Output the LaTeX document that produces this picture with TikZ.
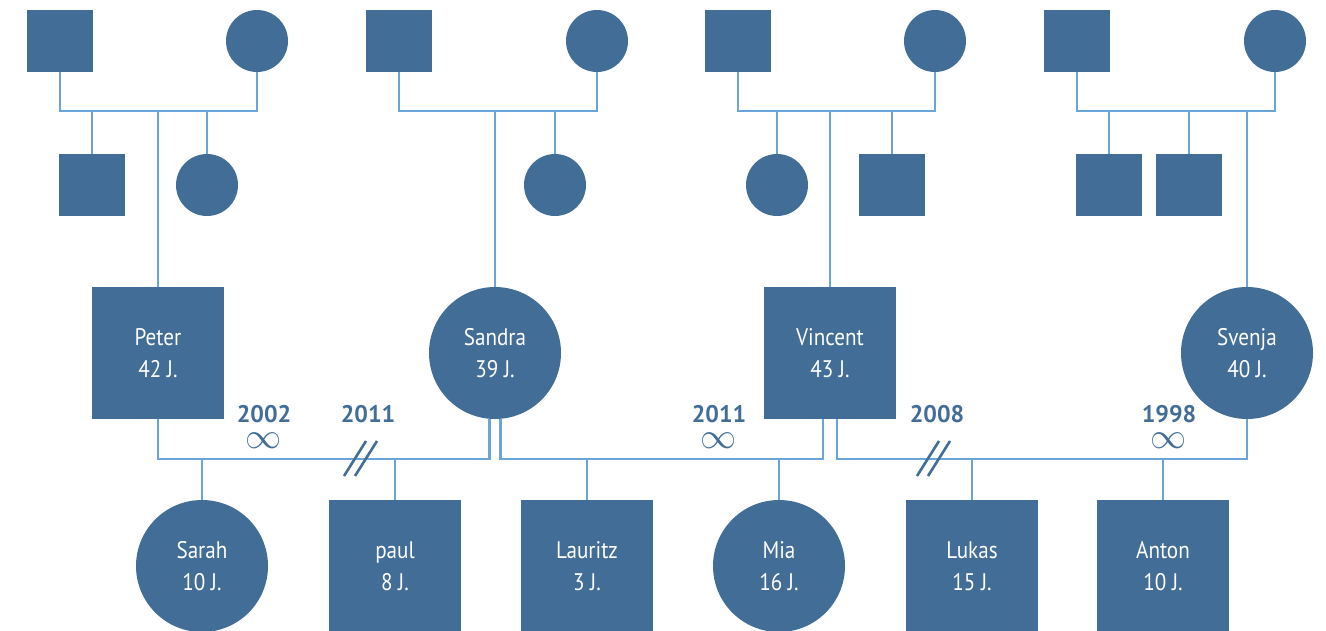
\documentclass[tikz,border=0pt]{standalone}
\usepackage{fontspec}
\setmainfont[FakeStretch=0.88]{PT Sans}
\newfontfamily\yearfont{PT Sans}
\usepackage{tikz}
\usetikzlibrary{positioning}
\usepackage{xcolor}
\definecolor{pedfill}{HTML}{426D97}
\definecolor{pedline}{HTML}{6AA5D9}

\tikzset{
  male/.style={rectangle, fill=pedfill, minimum width=66pt, minimum height=62pt, inner sep=0pt},
  female/.style={circle, fill=pedfill, minimum size=62pt, inner sep=0pt},
  person/.style={fill=pedfill, inner sep=0pt, text=white, align=center, font=\fontsize{24}{32}\selectfont},
  bigmale/.style={person, rectangle, minimum size=132pt},
  bigfemale/.style={person, circle, minimum size=132pt},
  famline/.style={draw=pedline, line width=2.6pt},
  year/.style={text=pedfill, inner sep=0pt, font=\yearfont\bfseries\fontsize{24}{24}\selectfont},
  wedding/.style={text=pedfill, inner sep=0pt, font=\fontsize{24}{24}\selectfont},
  divorce/.style={draw=pedfill, line width=2.6pt}
}

\begin{document}
\begin{tikzpicture}[x=1pt,y=-1pt]
  \useasboundingbox (0,0) rectangle (1326,630);

  % Divorce mark
  \newcommand{\divorcemark}[1]{%
    \draw[divorce] ([shift={(-16,17)}]#1) -- ++(22,-35);
    \draw[divorce] ([shift={(-5,17)}]#1) -- ++(22,-35);
  }

  % Peter's family
  \node[male] (gp1m) at (60,41) {};
  \node[female] (gp1f) at (257,41) {};
  \coordinate (j1) at (158,111);
  \node[male] (pb1) at (92,185) {};
  \node[female] (ps1) at (207,185) {};
  \node[bigmale] (peter) at (158,353) {Peter\\42 J.};
  \draw[famline] (gp1m.south) |- (j1) -| (gp1f.south);
  \draw[famline] (pb1.north) -- (pb1.north |- j1);
  \draw[famline] (ps1.north) -- (ps1.north |- j1);
  \draw[famline] (j1) -- (peter.north);

  % Sandra's family
  \node[male] (gp2m) at (399,41) {};
  \node[female] (gp2f) at (597,41) {};
  \coordinate (j2) at (495,111);
  \node[female] (ss2) at (555,185) {};
  \node[bigfemale] (sandra) at (495,353) {Sandra\\39 J.};
  \draw[famline] (gp2m.south) |- (j2) -| (gp2f.south);
  \draw[famline] (ss2.north) -- (ss2.north |- j2);
  \draw[famline] (j2) -- (sandra.north);

  % Vincent's family
  \node[male] (gp3m) at (738,41) {};
  \node[female] (gp3f) at (935,41) {};
  \coordinate (j3) at (830,111);
  \node[female] (vs3) at (777,185) {};
  \node[male] (vb3) at (892,185) {};
  \node[bigmale] (vincent) at (830,353) {Vincent\\43 J.};
  \draw[famline] (gp3m.south) |- (j3) -| (gp3f.south);
  \draw[famline] (vs3.north) -- (vs3.north |- j3);
  \draw[famline] (vb3.north) -- (vb3.north |- j3);
  \draw[famline] (j3) -- (vincent.north);

  % Svenja's family
  \node[male] (gp4m) at (1077,41) {};
  \node[female] (gp4f) at (1275,41) {};
  \coordinate (j4) at (1247,111);
  \node[male] (sb4) at (1109,185) {};
  \node[male] (sb5) at (1189,185) {};
  \node[bigfemale] (svenja) at (1247,353) {Svenja\\40 J.};
  \draw[famline] (gp4m.south) |- (j4) -| (gp4f.south);
  \draw[famline] (sb4.north) -- (sb4.north |- j4);
  \draw[famline] (sb5.north) -- (sb5.north |- j4);
  \draw[famline] (j4) -- (svenja.north);

  % Children
  \node[bigfemale] (sarah) at (202,566) {Sarah\\10 J.};
  \node[bigmale] (paul) at (395,566) {paul\\8 J.};
  \node[bigmale] (lauritz) at (587,566) {Lauritz\\3 J.};
  \node[bigfemale] (mia) at (779,566) {Mia\\16 J.};
  \node[bigmale] (lukas) at (972,566) {Lukas\\15 J.};
  \node[bigmale] (anton) at (1163,566) {Anton\\10 J.};

  % Couples
  \coordinate (c1) at (300,459);
  \coordinate (c2) at (660,459);
  \coordinate (c3) at (1040,459);
  \draw[famline] (peter.south) |- (c1) -| (sandra.-95);
  \draw[famline] (sandra.-85) |- (c2) -| ([xshift=-7pt]vincent.south);
  \draw[famline] ([xshift=7pt]vincent.south) |- (c3) -| (svenja.south);
  \draw[famline] (sarah.north) -- (sarah.north |- c1);
  \draw[famline] (paul.north) -- (paul.north |- c1);
  \draw[famline] (lauritz.north) -- (lauritz.north |- c2);
  \draw[famline] (mia.north) -- (mia.north |- c2);
  \draw[famline] (lukas.north) -- (lukas.north |- c3);
  \draw[famline] (anton.north) -- (anton.north |- c3);

  % Years
  \node[year] (y2002) at (264,414) {2002};
  \node[wedding] (w2002) at (264,441) {\scalebox{1.45}{$\infty$}};
  \node[year] (y2011a) at (368,414) {2011};
  \divorcemark{360,459}
  \node[year] (y2011b) at (719,414) {2011};
  \node[wedding] (w2011) at (719,441) {\scalebox{1.45}{$\infty$}};
  \node[year] (y2008) at (937,414) {2008};
  \divorcemark{933,459}
  \node[year] (y1998) at (1169,414) {1998};
  \node[wedding] (w1998) at (1169,441) {\scalebox{1.45}{$\infty$}};
\end{tikzpicture}
\end{document}
